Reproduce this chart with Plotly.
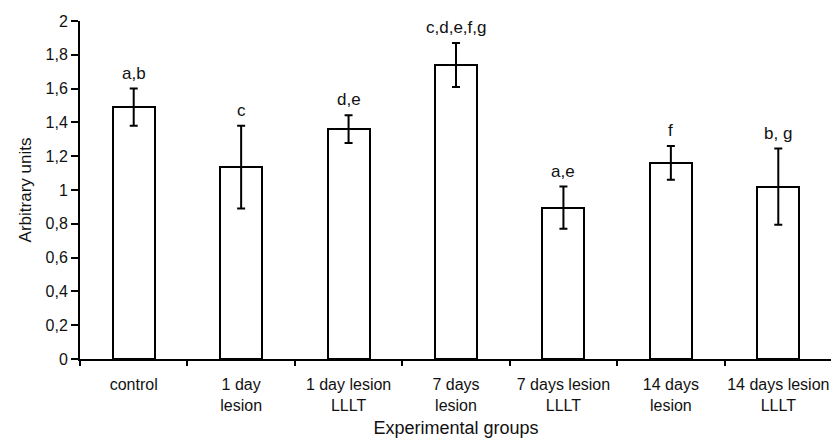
import plotly.graph_objects as go

groups = ["control", "1 day<br>lesion", "1 day lesion<br>LLLT", "7 days<br>lesion",
          "7 days lesion<br>LLLT", "14 days<br>lesion", "14 days lesion<br>LLLT"]
means = [1.49, 1.135, 1.36, 1.74, 0.895, 1.16, 1.02]
errors = [0.11, 0.245, 0.082, 0.13, 0.125, 0.10, 0.225]
letters = ["a,b", "c", "d,e", "c,d,e,f,g", "a,e", "f", "b, g"]
ytick_vals = [0, 0.2, 0.4, 0.6, 0.8, 1, 1.2, 1.4, 1.6, 1.8, 2]
ytick_text = ["0", "0,2", "0,4", "0,6", "0,8", "1", "1,2", "1,4", "1,6", "1,8", "2"]

font = "Liberation Sans, Arial, sans-serif"

fig = go.Figure()
fig.add_trace(go.Bar(
    x=groups, y=means, width=0.39,
    marker=dict(color="white", line=dict(color="black", width=2)),
    error_y=dict(type="data", array=errors, color="black", thickness=2, width=4),
    showlegend=False,
))

for g, m, e, t in zip(groups, means, errors, letters):
    fig.add_annotation(x=g, y=m + e, text=t, showarrow=False, yanchor="bottom",
                       yshift=4, font=dict(family=font, size=17, color="#111"))

fig.update_layout(
    width=831, height=434,
    margin=dict(l=72, r=7, t=13, b=83, autoexpand=False),
    plot_bgcolor="white", paper_bgcolor="white",
    font=dict(family=font, size=16, color="#111"),
    bargap=0,
)
fig.update_xaxes(
    range=[-0.5, 6.5], showline=True, linecolor="black", linewidth=2,
    ticks="outside", tickson="boundaries", ticklen=5, tickwidth=2, tickcolor="black",
    showgrid=False, tickfont=dict(size=16), automargin=False, tickangle=0,
    ticklabelstandoff=10,
    title=dict(text="Experimental groups", font=dict(size=18), standoff=8),
)
fig.update_yaxes(
    range=[0, 2], tickvals=ytick_vals, ticktext=ytick_text,
    showline=True, linecolor="black", linewidth=2,
    ticks="outside", ticklen=7, tickwidth=2, tickcolor="black",
    showgrid=False, zeroline=False, tickfont=dict(size=16), automargin=False,
    title=dict(text="Arbitrary units", font=dict(size=17), standoff=10),
)

fig.write_html("out.html")
